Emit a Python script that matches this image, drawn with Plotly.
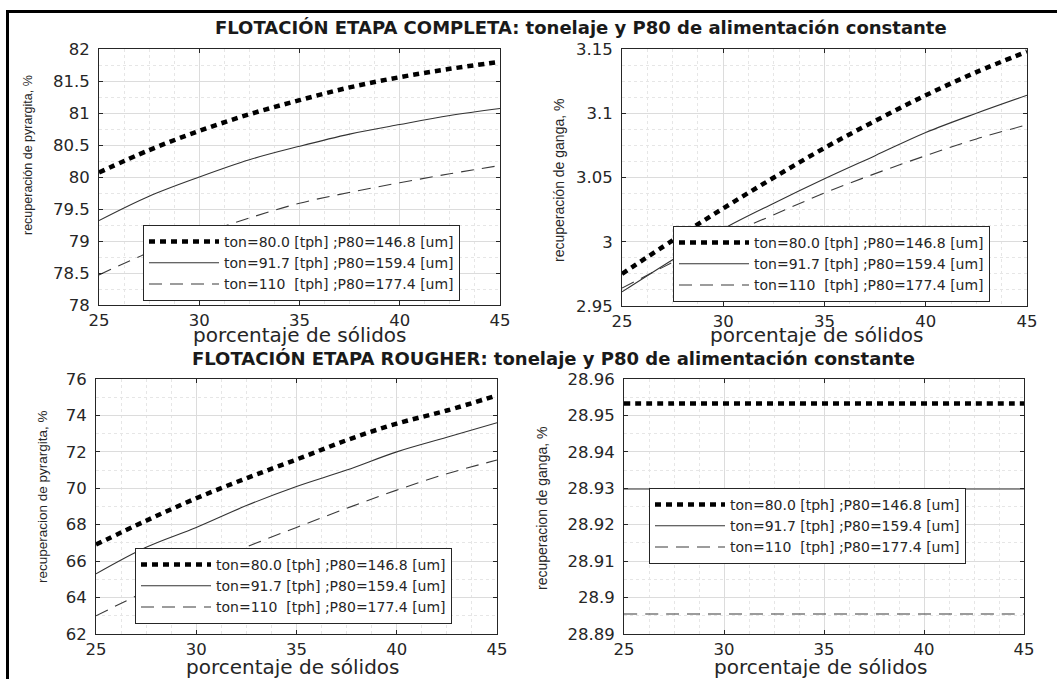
import plotly.graph_objects as go

# ---------------- data ----------------
solidos = [25, 27.5, 30, 32.5, 35, 37.5, 40, 42.5, 45]
series_names = [
    "ton=80.0 [tph] ;P80=146.8 [um]",
    "ton=91.7 [tph] ;P80=159.4 [um]",
    "ton=110  [tph] ;P80=177.4 [um]",
]

# Flotación etapa completa - recuperación de pyrargita, %
comp_pyr_80 = [80.07, 80.42, 80.72, 80.98, 81.20, 81.40, 81.56, 81.69, 81.80]
comp_pyr_91 = [79.32, 79.70, 80.00, 80.27, 80.48, 80.67, 80.82, 80.96, 81.07]
comp_pyr_110 = [78.47, 78.82, 79.10, 79.36, 79.59, 79.76, 79.91, 80.05, 80.18]

# Flotación etapa completa - recuperación de ganga, %
comp_gan_80 = [2.975, 3.001, 3.026, 3.050, 3.073, 3.094, 3.114, 3.132, 3.148]
comp_gan_91 = [2.961, 2.986, 3.010, 3.030, 3.049, 3.067, 3.085, 3.100, 3.114]
comp_gan_110 = [2.964, 2.984, 3.004, 3.021, 3.038, 3.053, 3.067, 3.080, 3.091]

# Flotación etapa rougher - recuperación de pyrargita, %
rou_pyr_80 = [66.91, 68.22, 69.45, 70.55, 71.58, 72.64, 73.55, 74.27, 75.10]
rou_pyr_91 = [65.30, 66.76, 67.85, 69.05, 70.10, 71.00, 72.00, 72.80, 73.60]
rou_pyr_110 = [63.00, 64.35, 65.60, 66.78, 67.85, 68.90, 69.90, 70.80, 71.55]

# Flotación etapa rougher - recuperación de ganga, %
rou_gan_80 = [28.9533] * 9
rou_gan_91 = [28.9298] * 9
rou_gan_110 = [28.8955] * 9

x_ticks = [25, 30, 35, 40, 45]

titles = [
    "FLOTACIÓN ETAPA COMPLETA: tonelaje y P80 de alimentación constante",
    "FLOTACIÓN ETAPA ROUGHER: tonelaje y P80 de alimentación constante",
]
ytitles = [
    "recuperación de pyrargita, %",
    "recuperación de ganga, %",
    "recuperacion de pyrargita, %",
    "recuperacion de ganga, %",
]
xtitle = "porcentaje de sólidos"

# ---------------- styling ----------------
W, H = 1057, 679
FONT = "DejaVu Sans, Verdana, sans-serif"
FONT_Y = "Liberation Sans, Arial, sans-serif"
INK = "#262626"

def px_x(p):
    return p / W

def px_y(p):
    return 1 - p / H

styles = [
    dict(color="black", width=4.5, dash="6px,5px"),
    dict(color="#333333", width=1.1, dash="solid"),
    dict(color="#3a3a3a", width=1.1, dash="13px,8px"),
]

panels = [
    # data, axis suffix, legend, x px range, y px range, yrange, ydtick, yminor
    ([comp_pyr_80, comp_pyr_91, comp_pyr_110], "", "legend", (99, 500), (49, 305), [78, 82], 0.5, 0.25),
    ([comp_gan_80, comp_gan_91, comp_gan_110], "2", "legend2", (622, 1027), (49, 306), [2.95, 3.15], 0.05, 0.0125),
    ([rou_pyr_80, rou_pyr_91, rou_pyr_110], "3", "legend3", (96, 497), (379, 634), [62, 76], 2, 1),
    ([rou_gan_80, rou_gan_91, rou_gan_110], "4", "legend4", (624, 1024), (379, 634), [28.89, 28.96], 0.01, 0.005),
]

# legend (left px, bottom px)
legend_pos = [(143, 301), (673, 302), (135, 624), (649, 564)]
# y-title (x center, y center, font size), x-title (x center, y center)
ytitle_pos = [(28, 155, 12.5), (559, 181, 14), (43, 497, 13.5), (542, 509, 14)]
xtitle_pos = [(300, 335), (817, 335), (293, 667), (821, 667)]

fig = go.Figure()
layout = dict(
    width=W, height=H,
    margin=dict(l=0, r=0, t=0, b=0, autoexpand=False),
    paper_bgcolor="white", plot_bgcolor="white",
    showlegend=True,
)
annotations = []

for i, (data, suf, leg, (x0, x1), (y0, y1), yr, ydt, ymin) in enumerate(panels):
    for j, ys in enumerate(data):
        fig.add_trace(go.Scatter(
            x=solidos, y=ys, mode="lines", name=series_names[j],
            line=dict(color=styles[j]["color"], width=styles[j]["width"],
                      dash=styles[j]["dash"], shape="spline"),
            xaxis="x" + suf, yaxis="y" + suf, legend=leg,
            hoverinfo="skip",
        ))
    common = dict(
        showline=True, linecolor=INK, linewidth=1, mirror="ticks",
        ticks="inside", ticklen=4, tickcolor=INK,
        showgrid=True, gridcolor="#dcdcdc", gridwidth=1,
        zeroline=False, automargin=False,
        tickfont=dict(family=FONT, size=16.5, color=INK),
    )
    layout["xaxis" + suf] = dict(
        common,
        domain=[px_x(x0), px_x(x1)], range=[25, 45],
        tickmode="array", tickvals=x_ticks,
        anchor="y" + suf,
        minor=dict(dtick=1.25, tick0=25, showgrid=True, gridcolor="#e6e6e6",
                   griddash="dot", ticks=""),
    )
    layout["yaxis" + suf] = dict(
        common,
        domain=[px_y(y1), px_y(y0)], range=yr,
        tickmode="linear", tick0=yr[0], dtick=ydt,
        anchor="x" + suf,
        ticklabelstandoff=5,
        minor=dict(dtick=ymin, tick0=yr[0], showgrid=True, gridcolor="#e6e6e6",
                   griddash="dot", ticks=""),
    )
    lx, ly = legend_pos[i]
    layout[leg] = dict(
        x=px_x(lx), y=px_y(ly), xanchor="left", yanchor="bottom",
        bgcolor="white", bordercolor=INK, borderwidth=1,
        font=dict(family=FONT, size=14, color=INK),
        itemwidth=70, tracegroupgap=0,
    )
    tx, ty, ts = ytitle_pos[i]
    annotations.append(dict(
        text=ytitles[i], x=px_x(tx), y=px_y(ty), xref="paper", yref="paper",
        showarrow=False, xanchor="center", yanchor="middle", textangle=-90,
        font=dict(family=FONT_Y, size=ts, color=INK)))
    ax_, ay_ = xtitle_pos[i]
    annotations.append(dict(
        text=xtitle, x=px_x(ax_), y=px_y(ay_), xref="paper", yref="paper",
        showarrow=False, xanchor="center", yanchor="middle",
        font=dict(family=FONT, size=20, color=INK)))

annotations += [
    dict(text="<b>" + titles[0] + "</b>", x=px_x(581), y=px_y(28), xref="paper", yref="paper",
         showarrow=False, xanchor="center", yanchor="middle",
         font=dict(family=FONT, size=18, color="#1a1a1a")),
    dict(text="<b>" + titles[1] + "</b>", x=px_x(553), y=px_y(358), xref="paper", yref="paper",
         showarrow=False, xanchor="center", yanchor="middle",
         font=dict(family=FONT, size=18, color="#1a1a1a")),
]
layout["annotations"] = annotations
# outer image frame (left and top edges) as thin filled bars
layout["shapes"] = [
    dict(type="rect", xref="paper", yref="paper", layer="above",
         x0=px_x(6), x1=px_x(9), y0=0, y1=px_y(10),
         fillcolor="black", line=dict(width=0)),
    dict(type="rect", xref="paper", yref="paper", layer="above",
         x0=px_x(6), x1=1, y0=px_y(13), y1=px_y(10),
         fillcolor="black", line=dict(width=0)),
]

fig.update_layout(**layout)
fig.write_html("out.html", config={"displayModeBar": False},
               post_script="document.body.style.margin='0';")
